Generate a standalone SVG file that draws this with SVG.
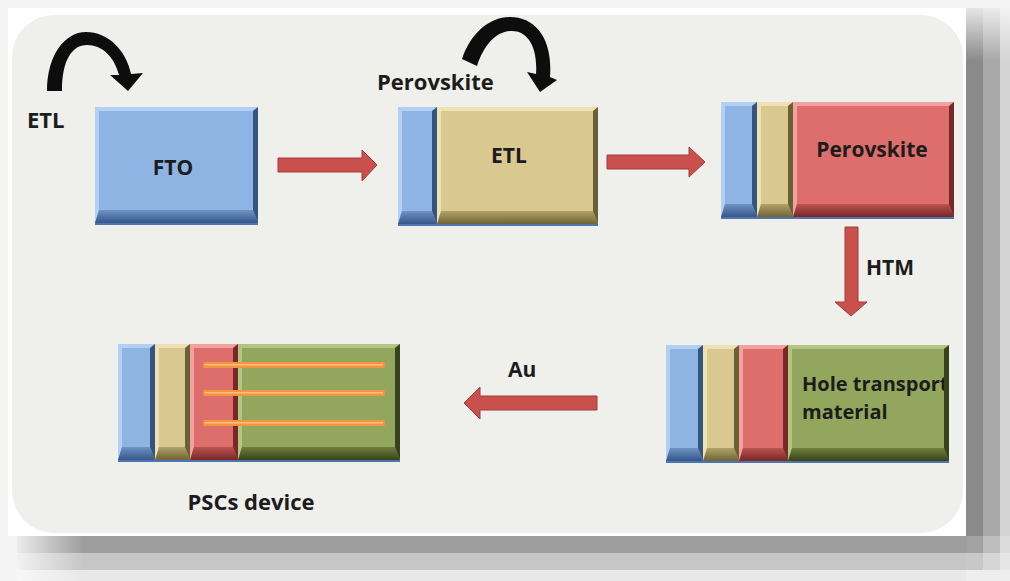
<svg xmlns="http://www.w3.org/2000/svg" width="1010" height="581" viewBox="0 0 1010 581">
  <defs>
    <style>
      text { font-family: "Open Sans", "Liberation Sans", sans-serif; font-weight: 700; fill: #1c1c1c; }
      .lbl { font-size: 22px; }
      .in { font-size: 21px; text-anchor: middle; }
      /* bevelled layer colours */
      .b { fill: #8db4e2; } .bl { fill: #b3cff1; } .bd { fill: url(#gBlue); } .br { fill: #34557f; }
      .t { fill: #d9c991; } .tl { fill: #eee2b4; } .td { fill: url(#gTan); } .tr { fill: #6b6035; }
      .r { fill: #de6e6c; } .rl { fill: #f2a19f; } .rd { fill: url(#gRed); } .rr { fill: #772828; }
      .g { fill: #92a65d; } .gl { fill: #b3c580; } .gd { fill: url(#gGreen); } .gr { fill: #36431a; }
      .edge { fill: #4d76ae; }
      .glow { fill: #c6d7ee; }
      .flow { fill: #c9504d; stroke: #a33c3a; stroke-width: 1; }
      .bend { fill: #0d0d0d; }
      .wire { fill: #f49442; }
      .wirehi { fill: #fbc27d; }
    </style>
    <linearGradient id="gBlue" x1="0" y1="0" x2="0" y2="1">
      <stop offset="0" stop-color="#6f93c5"/><stop offset="1" stop-color="#35568a"/>
    </linearGradient>
    <linearGradient id="gTan" x1="0" y1="0" x2="0" y2="1">
      <stop offset="0" stop-color="#b1a268"/><stop offset="1" stop-color="#6f6436"/>
    </linearGradient>
    <linearGradient id="gRed" x1="0" y1="0" x2="0" y2="1">
      <stop offset="0" stop-color="#b95452"/><stop offset="1" stop-color="#7a2626"/>
    </linearGradient>
    <linearGradient id="gGreen" x1="0" y1="0" x2="0" y2="1">
      <stop offset="0" stop-color="#6d7f3c"/><stop offset="1" stop-color="#36431a"/>
    </linearGradient>
    <linearGradient id="shR1" x1="0" y1="0" x2="0" y2="1">
      <stop offset="0" stop-color="#e6e6e6"/><stop offset="0.1" stop-color="#8a8a8a"/><stop offset="1" stop-color="#8a8a8a"/>
    </linearGradient>
    <linearGradient id="shR2" x1="0" y1="0" x2="0" y2="1">
      <stop offset="0" stop-color="#ececec"/><stop offset="0.1" stop-color="#a8a8a8"/><stop offset="1" stop-color="#a8a8a8"/>
    </linearGradient>
    <linearGradient id="shR3" x1="0" y1="0" x2="0" y2="1">
      <stop offset="0" stop-color="#f2f2f2"/><stop offset="0.1" stop-color="#d4d4d4"/><stop offset="1" stop-color="#d4d4d4"/>
    </linearGradient>
    <linearGradient id="shB1" x1="0" y1="0" x2="1" y2="0">
      <stop offset="0" stop-color="#ececec"/><stop offset="0.07" stop-color="#9e9e9e"/><stop offset="1" stop-color="#9e9e9e"/>
    </linearGradient>
    <linearGradient id="shB2" x1="0" y1="0" x2="1" y2="0">
      <stop offset="0" stop-color="#f2f2f2"/><stop offset="0.07" stop-color="#c6c6c6"/><stop offset="1" stop-color="#c6c6c6"/>
    </linearGradient>
    <linearGradient id="shB3" x1="0" y1="0" x2="1" y2="0">
      <stop offset="0" stop-color="#f7f7f7"/><stop offset="0.07" stop-color="#e8e8e8"/><stop offset="1" stop-color="#e8e8e8"/>
    </linearGradient>
  </defs>

  <!-- page, drop shadow and panel -->
  <rect x="0" y="0" width="1010" height="581" fill="#f4f4f4"/>
  <rect x="966" y="8" width="17" height="528" fill="url(#shR1)"/>
  <rect x="983" y="8" width="17" height="528" fill="url(#shR2)"/>
  <rect x="1000" y="8" width="10" height="528" fill="url(#shR3)"/>
  <rect x="17" y="536" width="949" height="17" fill="url(#shB1)"/>
  <rect x="17" y="553" width="949" height="17" fill="url(#shB2)"/>
  <rect x="17" y="570" width="949" height="11" fill="url(#shB3)"/>
  <rect x="966" y="536" width="17" height="17" fill="#a2a2a2"/>
  <rect x="983" y="536" width="17" height="17" fill="#bdbdbd"/>
  <rect x="1000" y="536" width="10" height="17" fill="#dcdcdc"/>
  <rect x="966" y="553" width="17" height="17" fill="#c8c8c8"/>
  <rect x="983" y="553" width="17" height="17" fill="#d6d6d6"/>
  <rect x="1000" y="553" width="10" height="17" fill="#e6e6e6"/>
  <rect x="966" y="570" width="44" height="11" fill="#eeeeee"/>
  <rect x="8" y="8" width="958" height="528" fill="#ffffff"/>
  <rect x="12" y="15" width="951" height="518" rx="42" ry="42" fill="#efefeb"/>

  <!-- FTO substrate -->
  <g id="node-fto">
    <rect class="edge" x="95" y="221" width="163" height="4"/>
    <rect class="b" x="95" y="107" width="163" height="116"/>
    <polygon class="bl" points="95,107 258,107 253,111 99,111 99,210 95,223"/>
    <polygon class="bd" points="95,223 99,210 253,210 258,223"/>
    <polygon class="br" points="258,107 253,111 253,210 258,223"/>
    <text class="in" x="173" y="175">FTO</text>
  </g>

  <!-- FTO + ETL -->
  <g id="node-etl">
    <rect class="edge" x="398" y="222" width="200" height="4"/>
    <rect class="b" x="398" y="107" width="39" height="117"/>
    <polygon class="bl" points="398,107 437,107 432,111 402,111 402,211 398,224"/>
    <polygon class="bd" points="398,224 402,211 432,211 437,224"/>
    <polygon class="br" points="437,107 432,111 432,211 437,224"/>
    <rect class="t" x="437" y="107" width="161" height="117"/>
    <polygon class="tl" points="437,107 598,107 593,111 441,111 441,211 437,224"/>
    <polygon class="td" points="437,224 441,211 593,211 598,224"/>
    <polygon class="tr" points="598,107 593,111 593,211 598,224"/>
    <text class="in" x="509" y="163">ETL</text>
  </g>

  <!-- FTO + ETL + perovskite -->
  <g id="node-perovskite">
    <rect class="edge" x="721" y="215" width="233" height="4"/>
    <rect class="b" x="721" y="102" width="36" height="115"/>
    <polygon class="bl" points="721,102 757,102 752,106 725,106 725,204 721,217"/>
    <polygon class="bd" points="721,217 725,204 752,204 757,217"/>
    <polygon class="br" points="757,102 752,106 752,204 757,217"/>
    <rect class="t" x="757" y="102" width="36" height="115"/>
    <polygon class="tl" points="757,102 793,102 788,106 761,106 761,204 757,217"/>
    <polygon class="td" points="757,217 761,204 788,204 793,217"/>
    <polygon class="tr" points="793,102 788,106 788,204 793,217"/>
    <rect class="r" x="793" y="102" width="161" height="115"/>
    <polygon class="rl" points="793,102 954,102 949,106 797,106 797,204 793,217"/>
    <polygon class="rd" points="793,217 797,204 949,204 954,217"/>
    <polygon class="rr" points="954,102 949,106 949,204 954,217"/>
    <text class="in" x="872" y="157">Perovskite</text>
  </g>

  <!-- FTO + ETL + perovskite + HTM -->
  <g id="node-htm">
    <rect class="edge" x="666" y="459" width="283" height="4"/>
    <rect class="b" x="666" y="345" width="37" height="116"/>
    <polygon class="bl" points="666,345 703,345 698,349 670,349 670,448 666,461"/>
    <polygon class="bd" points="666,461 670,448 698,448 703,461"/>
    <polygon class="br" points="703,345 698,349 698,448 703,461"/>
    <rect class="t" x="703" y="345" width="36" height="116"/>
    <polygon class="tl" points="703,345 739,345 734,349 707,349 707,448 703,461"/>
    <polygon class="td" points="703,461 707,448 734,448 739,461"/>
    <polygon class="tr" points="739,345 734,349 734,448 739,461"/>
    <rect class="r" x="739" y="345" width="49" height="116"/>
    <polygon class="rl" points="739,345 788,345 783,349 743,349 743,448 739,461"/>
    <polygon class="rd" points="739,461 743,448 783,448 788,461"/>
    <polygon class="rr" points="788,345 783,349 783,448 788,461"/>
    <rect class="g" x="788" y="345" width="161" height="116"/>
    <polygon class="gl" points="788,345 949,345 944,349 792,349 792,448 788,461"/>
    <polygon class="gd" points="788,461 792,448 944,448 949,461"/>
    <text style="font-size:20px" x="802" y="391">Hole transport</text>
    <text style="font-size:20px" x="802" y="419">material</text>
    <polygon class="gr" points="949,345 944,349 944,448 949,461"/>
  </g>

  <!-- finished cell with Au contacts -->
  <g id="node-device">
    <rect class="edge" x="118" y="458" width="282" height="4"/>
    <rect class="b" x="118" y="344" width="37" height="116"/>
    <polygon class="bl" points="118,344 155,344 150,348 122,348 122,447 118,460"/>
    <polygon class="bd" points="118,460 122,447 150,447 155,460"/>
    <polygon class="br" points="155,344 150,348 150,447 155,460"/>
    <rect class="t" x="155" y="344" width="35" height="116"/>
    <polygon class="tl" points="155,344 190,344 185,348 159,348 159,447 155,460"/>
    <polygon class="td" points="155,460 159,447 185,447 190,460"/>
    <polygon class="tr" points="190,344 185,348 185,447 190,460"/>
    <rect class="r" x="190" y="344" width="48" height="116"/>
    <polygon class="rl" points="190,344 238,344 233,348 194,348 194,447 190,460"/>
    <polygon class="rd" points="190,460 194,447 233,447 238,460"/>
    <polygon class="rr" points="238,344 233,348 233,447 238,460"/>
    <rect class="g" x="238" y="344" width="162" height="116"/>
    <polygon class="gl" points="238,344 400,344 395,348 242,348 242,447 238,460"/>
    <polygon class="gd" points="238,460 242,447 395,447 400,460"/>
    <polygon class="gr" points="400,344 395,348 395,447 400,460"/>
    <rect class="wire" x="203" y="362" width="182" height="6" rx="2"/>
    <rect class="wirehi" x="205" y="364" width="178" height="1.5"/>
    <rect class="wire" x="203" y="390" width="182" height="6" rx="2"/>
    <rect class="wirehi" x="205" y="392" width="178" height="1.5"/>
    <rect class="wire" x="203" y="420" width="182" height="6" rx="2"/>
    <rect class="wirehi" x="205" y="422" width="178" height="1.5"/>
    <text class="lbl" x="251" y="510" text-anchor="middle">PSCs device</text>
  </g>

  <!-- process steps -->
  <g id="connectors">
    <path class="bend" d="M47,91 C47,55 65,32 86,32 C108,32 126,50 131,74 L143,73 L128,91 L110,75 L119,75 C114,56 102,45 87,45 C72,45 62,60 62,91 Z"/>
    <text class="lbl" x="27" y="128">ETL</text>
    <path class="bend" d="M462,59 C470,35 488,17 510,17 C535,17 553,38 550,77 L557,80 L540,92 L527,72 L536,74 C538,46 527,31 512,31 C496,31 484,45 477,66 Z"/>
    <text class="lbl" x="377" y="90">Perovskite</text>
    <polygon class="flow" points="278,158 362,158 362,150 377,165 362,181 362,172 278,172"/>
    <polygon class="flow" points="607,155 689,155 689,147 705,162 689,177 689,169 607,169"/>
    <polygon class="flow" points="845,227 858,227 858,302 867,302 851,316 835,302 845,302"/>
    <text style="font-size:21px" x="866" y="275">HTM</text>
    <polygon class="flow" points="597,396 480,396 480,387 464,403 480,419 480,410 597,410"/>
    <text style="font-size:21px" x="508" y="377">Au</text>
  </g>
</svg>
